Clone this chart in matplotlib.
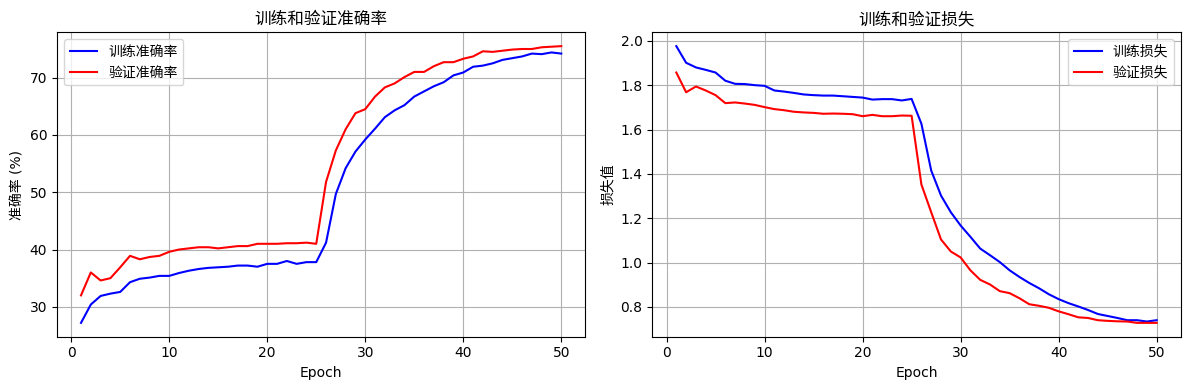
import matplotlib
matplotlib.use("Agg")
import matplotlib.pyplot as plt

plt.rcParams['font.family'] = ['DejaVu Sans', 'Noto Sans CJK SC']

epochs = list(range(1, 51))

train_acc = [27.2, 30.4, 31.9, 32.3, 32.6, 34.3, 34.9, 35.1, 35.4, 35.4,
             35.9, 36.3, 36.6, 36.8, 36.9, 37.0, 37.2, 37.2, 37.0, 37.5,
             37.5, 38.0, 37.5, 37.8, 37.8, 41.2, 49.7, 54.2, 57.1, 59.2,
             61.1, 63.1, 64.3, 65.2, 66.7, 67.6, 68.5, 69.2, 70.4, 70.9,
             71.9, 72.1, 72.5, 73.1, 73.4, 73.7, 74.2, 74.1, 74.4, 74.2]
val_acc = [32.0, 36.0, 34.6, 35.0, 36.9, 38.9, 38.3, 38.7, 38.9, 39.6,
           40.0, 40.2, 40.4, 40.4, 40.2, 40.4, 40.6, 40.6, 41.0, 41.0,
           41.0, 41.1, 41.1, 41.2, 41.0, 51.8, 57.3, 61.0, 63.8, 64.5,
           66.7, 68.3, 69.0, 70.1, 71.0, 71.0, 72.0, 72.7, 72.7, 73.3,
           73.7, 74.6, 74.5, 74.7, 74.9, 75.0, 75.0, 75.3, 75.4, 75.5]

train_loss = [1.976, 1.901, 1.880, 1.869, 1.857, 1.820, 1.806, 1.805, 1.800, 1.797,
              1.776, 1.771, 1.765, 1.758, 1.755, 1.753, 1.753, 1.750, 1.747, 1.744,
              1.735, 1.737, 1.737, 1.731, 1.738, 1.626, 1.415, 1.302, 1.227, 1.167,
              1.116, 1.063, 1.033, 1.002, 0.965, 0.935, 0.908, 0.884, 0.857, 0.835,
              0.817, 0.802, 0.786, 0.768, 0.759, 0.750, 0.740, 0.740, 0.734, 0.740]
val_loss = [1.857, 1.768, 1.794, 1.776, 1.755, 1.719, 1.722, 1.717, 1.711, 1.701,
            1.692, 1.687, 1.680, 1.677, 1.675, 1.671, 1.672, 1.671, 1.669, 1.660,
            1.666, 1.660, 1.660, 1.663, 1.662, 1.352, 1.227, 1.104, 1.050, 1.023,
            0.965, 0.922, 0.901, 0.871, 0.862, 0.839, 0.812, 0.805, 0.796, 0.780,
            0.767, 0.753, 0.750, 0.740, 0.737, 0.735, 0.734, 0.728, 0.728, 0.728]

W, H = 1189, 390
fig = plt.figure(figsize=(W / 100, H / 100), dpi=100)
ax1 = fig.add_axes([57 / W, 1 - 336.7 / H, (585.3 - 57) / W, (336.7 - 32.3) / H])
ax2 = fig.add_axes([652.3 / W, 1 - 336.7 / H, (1180.7 - 652.3) / W, (336.7 - 32.3) / H])

ax1.plot(epochs, train_acc, color='blue', label='训练准确率')
ax1.plot(epochs, val_acc, color='red', label='验证准确率')
ax1.set_title('训练和验证准确率')
ax1.set_xlabel('Epoch')
ax1.set_ylabel('准确率 (%)')
ax1.legend(loc='upper left')
ax1.grid(True)

ax2.plot(epochs, train_loss, color='blue', label='训练损失')
ax2.plot(epochs, val_loss, color='red', label='验证损失')
ax2.set_title('训练和验证损失')
ax2.set_xlabel('Epoch')
ax2.set_ylabel('损失值')
ax2.legend(loc='upper right')
ax2.grid(True)

fig.savefig('out.png', dpi=100)
